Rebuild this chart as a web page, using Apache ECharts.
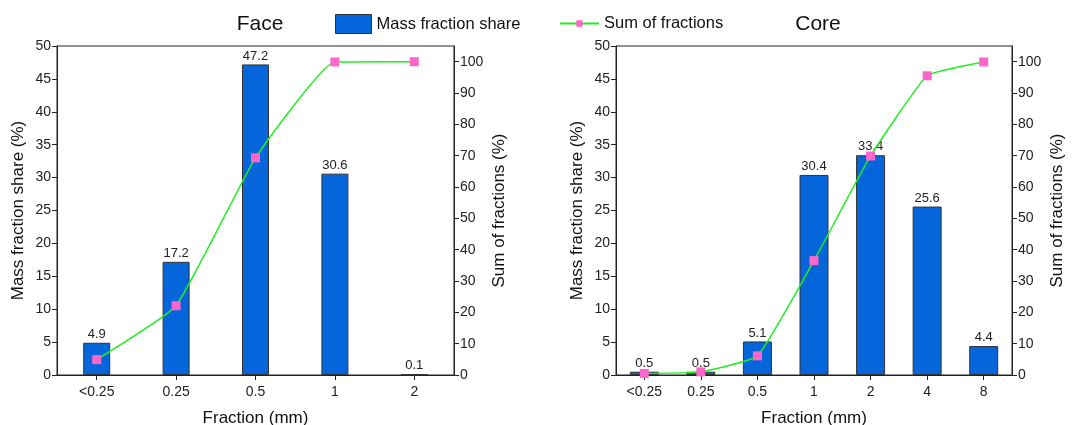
<!DOCTYPE html>
<html>
<head>
<meta charset="utf-8">
<script src="https://cdn.jsdelivr.net/npm/echarts@6/dist/echarts.min.js"></script>
<style>
  html, body { margin: 0; padding: 0; background: #fff; }
  #chart { width: 1080px; height: 425px; }
</style>
</head>
<body>
<div id="chart"></div>
<script>
// Face
const faceCategories = ['<0.25', '0.25', '0.5', '1', '2'];
const faceShare = [4.9, 17.2, 47.2, 30.6, 0.1];
const faceSum = [4.9, 22.1, 69.3, 99.9, 100];

// Core
const coreCategories = ['<0.25', '0.25', '0.5', '1', '2', '4', '8'];
const coreShare = [0.5, 0.5, 5.1, 30.4, 33.4, 25.6, 4.4];
const coreSum = [0.5, 1.0, 6.1, 36.5, 69.9, 95.5, 99.9];

const FONT = "'Liberation Sans', Arial, sans-serif";
const BAR = '#0566dc';
const LINE = '#22ee22';
const MARK = '#ff66cc';

function leftAxis(idx) {
  return {
    type: 'value', gridIndex: idx, min: 0, max: 50, interval: 5, position: 'left',
    name: 'Mass fraction share (%)', nameLocation: 'middle', nameGap: 30,
    nameTextStyle: { fontFamily: FONT, fontSize: 17, color: '#111' },
    axisLine: { show: true, lineStyle: { color: '#222', width: 1 } },
    axisTick: { show: true, length: 5, lineStyle: { color: '#222' } },
    axisLabel: { fontFamily: FONT, fontSize: 14, color: '#222', margin: 6 },
    splitLine: { show: false }
  };
}

function rightAxis(idx) {
  return {
    type: 'value', gridIndex: idx, min: 0, max: 105, interval: 10, position: 'right',
    name: 'Sum of fractions (%)', nameLocation: 'middle', nameGap: 37,
    nameTextStyle: { fontFamily: FONT, fontSize: 17, color: '#111' },
    axisLine: { show: true, lineStyle: { color: '#222', width: 1 } },
    axisTick: { show: true, length: 5, lineStyle: { color: '#222' } },
    axisLabel: { fontFamily: FONT, fontSize: 14, color: '#222', margin: 6, showMaxLabel: false },
    splitLine: { show: false }
  };
}

function catAxis(idx, data) {
  return {
    type: 'category', gridIndex: idx, data: data,
    name: 'Fraction (mm)', nameLocation: 'middle', nameGap: 35,
    nameTextStyle: { fontFamily: FONT, fontSize: 17, color: '#111' },
    axisLine: { show: true, lineStyle: { color: '#222', width: 1 } },
    axisTick: { show: true, alignWithLabel: true, length: 5, lineStyle: { color: '#222' } },
    axisLabel: { fontFamily: FONT, fontSize: 14, color: '#222', margin: 10 }
  };
}

function barSeries(idx, data, width) {
  return {
    name: 'Mass fraction share', type: 'bar', xAxisIndex: idx, yAxisIndex: idx * 2,
    data: data, barWidth: width,
    itemStyle: { color: BAR, borderColor: '#333', borderWidth: 1 },
    label: { show: true, position: 'top', distance: 2, fontFamily: FONT, fontSize: 13, color: '#222' }
  };
}

function lineSeries(idx, data) {
  return {
    name: 'Sum of fractions', type: 'line', xAxisIndex: idx, yAxisIndex: idx * 2 + 1,
    data: data, smooth: 0.12, symbol: 'rect', symbolSize: 9, z: 5,
    itemStyle: { color: MARK },
    lineStyle: { color: LINE, width: 1.5 }
  };
}

const chart = echarts.init(document.getElementById('chart'));
chart.setOption({
  animation: false,
  backgroundColor: '#fff',
  textStyle: { fontFamily: FONT },
  title: [
    { text: 'Face', left: 255, top: 9, textAlign: 'center',
      textStyle: { fontFamily: FONT, fontSize: 21, fontWeight: 'normal', color: '#111' } },
    { text: 'Core', left: 813, top: 9, textAlign: 'center',
      textStyle: { fontFamily: FONT, fontSize: 21, fontWeight: 'normal', color: '#111' } }
  ],
  legend: [
    {
      left: 330, top: 9, itemWidth: 36, itemHeight: 19, itemGap: 8,
      textStyle: { fontFamily: FONT, fontSize: 16.5, color: '#111' },
      data: [{ name: 'Mass fraction share', icon: 'rect',
        itemStyle: { color: BAR, borderColor: '#333', borderWidth: 1 } }]
    },
    {
      left: 554, top: 10, itemWidth: 39, itemHeight: 8, itemGap: 8,
      textStyle: { fontFamily: FONT, fontSize: 16.5, color: '#111' },
      data: [{ name: 'Sum of fractions', itemStyle: { color: MARK } }],
      itemStyle: { borderWidth: 0 }
    }
  ],
  grid: [
    { left: 57, right: 626, top: 46, bottom: 50, show: true, borderColor: '#222', borderWidth: 1,
      outerBoundsMode: 'none' },
    { left: 616, right: 68, top: 46, bottom: 50, show: true, borderColor: '#222', borderWidth: 1,
      outerBoundsMode: 'none' }
  ],
  xAxis: [catAxis(0, faceCategories), catAxis(1, coreCategories)],
  yAxis: [leftAxis(0), rightAxis(0), leftAxis(1), rightAxis(1)],
  series: [
    barSeries(0, faceShare, 27),
    lineSeries(0, faceSum),
    barSeries(1, coreShare, 29),
    lineSeries(1, coreSum)
  ]
});
</script>
</body>
</html>
